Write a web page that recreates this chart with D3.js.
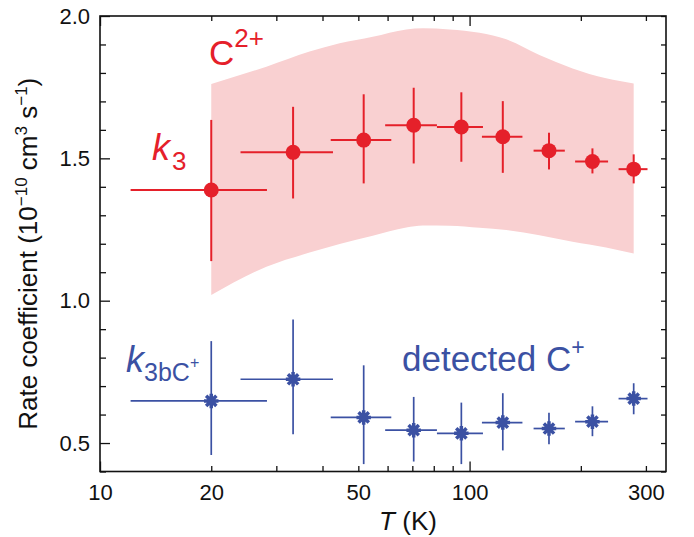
<!DOCTYPE html>
<html>
<head>
<meta charset="utf-8">
<script src="https://cdn.jsdelivr.net/npm/d3@7"></script>
<style>
  html, body { margin: 0; padding: 0; background: #fff; }
  svg { display: block; font-family: "Liberation Sans", Arial, Helvetica, sans-serif; }
</style>
</head>
<body>
<svg id="chart" width="694" height="537"></svg>
<script>
// Measured temperatures (K) and their horizontal ranges
const temps = [20, 33.3, 51.7, 70.6, 95.0, 123, 164, 215, 278];
const tLow  = [12.1, 24.0, 42.1, 59.1, 81.6, 108, 149, 193, 253];
const tHigh = [28.3, 42.7, 61.4, 81.6, 108.7, 139, 181, 237, 303];

// k3 (C2+) rate coefficients, 1e-10 cm^3 s^-1
const k3    = [1.389, 1.521, 1.564, 1.616, 1.610, 1.576, 1.527, 1.489, 1.462];
const k3Lo  = [1.139, 1.359, 1.412, 1.482, 1.488, 1.449, 1.461, 1.447, 1.412];
const k3Hi  = [1.635, 1.681, 1.725, 1.748, 1.732, 1.701, 1.590, 1.535, 1.514];

// k3bC+ (detected C+) rate coefficients
const kC    = [0.648, 0.724, 0.590, 0.545, 0.534, 0.572, 0.551, 0.575, 0.656];
const kCLo  = [0.458, 0.531, 0.426, 0.435, 0.426, 0.474, 0.496, 0.524, 0.601];
const kCHi  = [0.858, 0.934, 0.773, 0.662, 0.642, 0.675, 0.606, 0.629, 0.710];

// Uncertainty band for C2+
const bandT  = [20, 28.2, 36.9, 44.5, 54.7, 67.4, 74.8, 88.3, 106.4, 125.7, 154.5, 190, 234, 278];
const bandHi = [1.761, 1.822, 1.875, 1.904, 1.927, 1.953, 1.957, 1.953, 1.941, 1.918, 1.863, 1.816, 1.781, 1.763];
const bandLo = [1.020, 1.119, 1.169, 1.199, 1.228, 1.257, 1.264, 1.263, 1.256, 1.248, 1.230, 1.207, 1.187, 1.166];

// Axis ticks
const xMajor = [10, 100];
const xMinor = [20, 30, 40, 50, 60, 70, 80, 90, 200, 300];
const xLabels = [10, 20, 50, 100, 300];
const yMajor = [0.5, 1.0, 1.5, 2.0];
const yMinor = [0.4, 0.6, 0.7, 0.8, 0.9, 1.1, 1.2, 1.3, 1.4, 1.6, 1.7, 1.8, 1.9];

const RED = "#e5202a", PINK = "#f9d0d1", BLUE = "#3b51a3";

const svg = d3.select("#chart");
const L = 100, R = 666, T = 16, B = 471.5;

const x = d3.scaleLog().domain([10, 340]).range([L, R]);
const y = d3.scaleLinear().domain([0.4, 2.0]).range([B, T]);

// Band
const band = bandT.map((t, i) => ({ t, lo: bandLo[i], hi: bandHi[i] }));
svg.append("path")
  .datum(band)
  .attr("fill", PINK)
  .attr("d", d3.area()
    .x(d => x(d.t)).y0(d => y(d.lo)).y1(d => y(d.hi))
    .curve(d3.curveMonotoneX));

// Axes: ticks point inward on every side
function tickAxis(axisFn, scale, values, size, tx, ty) {
  const g = svg.append("g").attr("transform", `translate(${tx},${ty})`)
    .call(axisFn(scale).tickValues(values).tickSizeInner(-size).tickSizeOuter(0).tickFormat(""));
  g.select(".domain").remove();
  g.selectAll(".tick line").attr("stroke", "#111").attr("stroke-width", 1.3);
  return g;
}
tickAxis(d3.axisBottom, x, xMajor, 10, 0, B);
tickAxis(d3.axisBottom, x, xMinor, 5.5, 0, B);
tickAxis(d3.axisTop, x, xMajor, 10, 0, T);
tickAxis(d3.axisTop, x, xMinor, 5, 0, T);
tickAxis(d3.axisLeft, y, yMajor, 10, L, 0);
tickAxis(d3.axisLeft, y, yMinor, 6, L, 0);
tickAxis(d3.axisRight, y, yMajor.concat(yMinor), 5, R, 0);

// Tick labels
const xl = svg.append("g").attr("transform", `translate(0,${B})`)
  .call(d3.axisBottom(x).tickValues(xLabels).tickSize(0).tickPadding(13).tickFormat(d3.format("d")));
xl.select(".domain").remove();
xl.selectAll("text").attr("font-size", 22).attr("fill", "#111")
  .attr("font-family", "'Liberation Sans', Arial, sans-serif");

const yl = svg.append("g").attr("transform", `translate(${L},0)`)
  .call(d3.axisLeft(y).tickValues(yMajor).tickSize(0).tickPadding(10).tickFormat(d3.format(".1f")));
yl.select(".domain").remove();
yl.selectAll("text").attr("font-size", 22).attr("fill", "#111")
  .attr("font-family", "'Liberation Sans', Arial, sans-serif");

// Error bars and markers
function series(vals, lo, hi, color, width) {
  const g = svg.append("g").attr("stroke", color).attr("stroke-width", width);
  temps.forEach((t, i) => {
    g.append("line").attr("x1", x(tLow[i])).attr("x2", x(tHigh[i]))
      .attr("y1", y(vals[i])).attr("y2", y(vals[i]));
    g.append("line").attr("x1", x(t)).attr("x2", x(t))
      .attr("y1", y(lo[i])).attr("y2", y(hi[i]));
  });
  return g;
}
series(k3, k3Lo, k3Hi, RED, 2);
series(kC, kCLo, kCHi, BLUE, 1.7);

svg.append("g").selectAll("circle")
  .data(temps).join("circle")
  .attr("cx", d => x(d)).attr("cy", (d, i) => y(k3[i])).attr("r", 7.5)
  .attr("fill", RED);

// Eight-armed star marker
const star = {
  draw(ctx, size) {
    const r = Math.sqrt(size) / 2;
    for (let a = 0; a < 4; a++) {
      const ang = a * Math.PI / 4;
      const dx = r * Math.cos(ang), dy = r * Math.sin(ang);
      ctx.moveTo(-dx, -dy); ctx.lineTo(dx, dy);
    }
  }
};
svg.append("g").selectAll("path")
  .data(temps).join("path")
  .attr("transform", (d, i) => `translate(${x(d)},${y(kC[i])})`)
  .attr("d", d3.symbol(star, 210)())
  .attr("fill", "none").attr("stroke", BLUE).attr("stroke-width", 3.5);

// Frame
svg.append("rect").attr("x", L).attr("y", T).attr("width", R - L).attr("height", B - T)
  .attr("fill", "none").attr("stroke", "#111").attr("stroke-width", 1.6);

// Axis titles
const yt = svg.append("text")
  .attr("transform", `translate(37,${(T + B) / 2 + 10}) rotate(-90)`)
  .attr("text-anchor", "middle").attr("font-size", 26).attr("fill", "#111");
yt.append("tspan").text("Rate coefficient (10");
yt.append("tspan").attr("dy", -10).attr("font-size", 17).text("\u221210");
yt.append("tspan").attr("dy", 10).text(" cm");
yt.append("tspan").attr("dy", -10).attr("font-size", 17).text("3");
yt.append("tspan").attr("dy", 10).text(" s");
yt.append("tspan").attr("dy", -10).attr("font-size", 17).text("\u22121");
yt.append("tspan").attr("dy", 10).text(")");

const xt = svg.append("text").attr("x", 408).attr("y", 530)
  .attr("text-anchor", "middle").attr("font-size", 26).attr("fill", "#111");
xt.append("tspan").attr("font-style", "italic").text("T");
xt.append("tspan").text(" (K)");

// Annotations
const c2 = svg.append("text").attr("x", 209).attr("y", 65).attr("font-size", 35).attr("fill", RED);
c2.append("tspan").text("C");
c2.append("tspan").attr("dy", -18).attr("font-size", 26).text("2+");

const k3t = svg.append("text").attr("x", 152).attr("y", 160).attr("font-size", 36).attr("fill", RED);
k3t.append("tspan").attr("font-style", "italic").text("k");
k3t.append("tspan").attr("dx", 2).attr("dy", 10).attr("font-size", 26).text("3");

const kct = svg.append("text").attr("x", 126).attr("y", 372).attr("font-size", 36).attr("fill", BLUE);
kct.append("tspan").attr("font-style", "italic").text("k");
kct.append("tspan").attr("dy", 9).attr("font-size", 25).text("3bC");
kct.append("tspan").attr("dy", -13).attr("font-size", 16).text("+");

const det = svg.append("text").attr("x", 402).attr("y", 371).attr("font-size", 35).attr("fill", BLUE);
det.append("tspan").text("detected C");
det.append("tspan").attr("dy", -16).attr("font-size", 23).text("+");
</script>
</body>
</html>
